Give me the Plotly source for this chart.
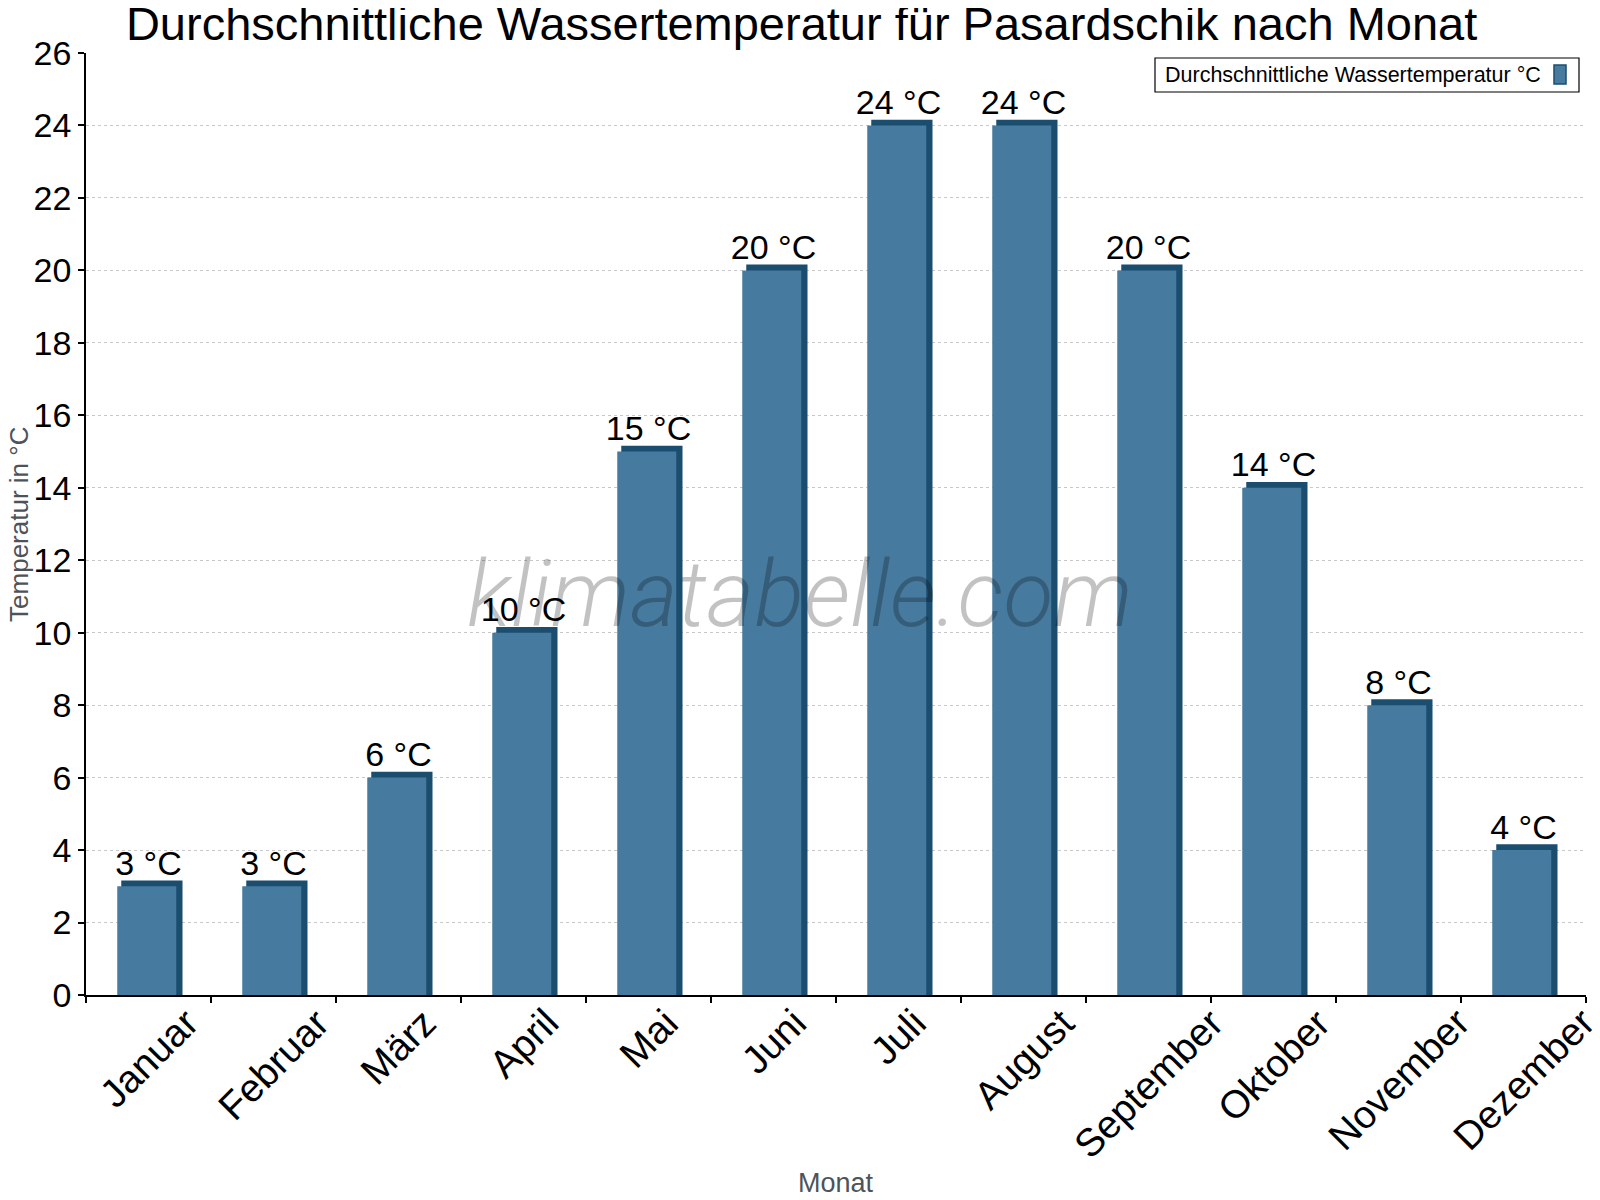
import plotly.graph_objects as go

months = ["Januar", "Februar", "März", "April", "Mai", "Juni", "Juli",
          "August", "September", "Oktober", "November", "Dezember"]
water_temp = [3, 3, 6, 10, 15, 20, 24, 24, 20, 14, 8, 4]
labels = [f"{v} °C" for v in water_temp]
y_ticks = list(range(0, 27, 2))

FRONT = "#467b9f"
DARK = "#1b4d6f"
DEPTH = 0.16  # visual 3D depth in y units
LABEL_LIFT = 0.08
FONT = "Liberation Sans, Arial, sans-serif"

fig = go.Figure()
# dark "3D" body (side + top)
fig.add_trace(go.Bar(
    x=months, y=[v + DEPTH for v in water_temp], base=0,
    marker=dict(color=DARK, line=dict(width=0)),
    offset=-0.25 + 0.032, width=0.49,
    showlegend=False, hoverinfo="skip",
))
# front face
fig.add_trace(go.Bar(
    x=months, y=water_temp,
    marker=dict(color=FRONT, line=dict(width=0)),
    offset=-0.25, width=0.472,
    name="Durchschnittliche Wassertemperatur °C",
    showlegend=False,
))
# value labels
fig.add_trace(go.Scatter(
    x=months, y=[v + LABEL_LIFT for v in water_temp], text=labels,
    mode="text", textposition="top center",
    textfont=dict(size=34, color="black", family=FONT),
    showlegend=False, hoverinfo="skip", cliponaxis=False,
))

# month labels: rotated, centred under each category
month_annotations = [
    dict(
        text=m, x=m, xref="x", y=0, yref="paper",
        textangle=-45, xanchor="center", yanchor="top", yshift=-3,
        showarrow=False, font=dict(size=39, color="black"),
    )
    for m in months
]

fig.update_layout(
    width=1600, height=1200,
    barmode="overlay",
    plot_bgcolor="white", paper_bgcolor="white",
    margin=dict(l=78, r=22, t=45, b=213),
    font=dict(family=FONT, color="black"),
    title=dict(
        text="Durchschnittliche Wassertemperatur für Pasardschik nach Monat",
        x=0.496, xref="container", xanchor="center",
        y=0.987, yref="container", yanchor="middle",
        font=dict(size=47, color="black"),
    ),
    xaxis=dict(
        type="category", tickson="boundaries", range=[-0.5, 11.5],
        ticks="outside", ticklen=6, tickcolor="black", tickwidth=1.5,
        showline=True, linecolor="black", linewidth=1.5,
        showticklabels=False,
        showgrid=False, automargin=False,
    ),
    yaxis=dict(
        range=[0, 26], tickvals=y_ticks,
        ticks="outside", ticklen=6, tickcolor="black", tickwidth=1.5,
        showline=True, linecolor="black", linewidth=1.5,
        tickfont=dict(size=34),
        showgrid=True, gridcolor="#c8c8c8", griddash="dot", gridwidth=1,
        zeroline=False, automargin=False,
    ),
    annotations=month_annotations + [
        dict(
            text="klimatabelle.com", xref="paper", yref="paper",
            x=0.476, y=0.425, xanchor="center", yanchor="middle",
            showarrow=False,
            font=dict(size=92, color="rgba(0,0,0,0.24)", family="Roboto",
                      weight=300, style="italic"),
        ),
        dict(
            text="Temperatur in °C", xref="paper", yref="paper",
            x=-0.0447, y=0.5, xanchor="center", yanchor="middle",
            textangle=-90, showarrow=False,
            font=dict(size=26, color="#4d5358"),
        ),
        dict(
            text="Monat", xref="paper", yref="paper",
            x=0.5, y=-0.1996, xanchor="center", yanchor="middle",
            showarrow=False,
            font=dict(size=27, color="#4d5358"),
        ),
        dict(
            text="Durchschnittliche Wassertemperatur °C",
            xref="paper", yref="paper", x=1.0, y=1.0,
            xshift=-423, yshift=-22,
            xanchor="left", yanchor="middle", showarrow=False,
            font=dict(size=21.5, color="black"),
        ),
    ],
    shapes=[
        dict(
            type="rect", xref="paper", yref="paper",
            xsizemode="pixel", ysizemode="pixel",
            xanchor=1.0, yanchor=1.0,
            x0=-431, x1=-7, y0=-39, y1=-5,
            fillcolor="white", line=dict(color="black", width=1.2),
        ),
        dict(
            type="rect", xref="paper", yref="paper",
            xsizemode="pixel", ysizemode="pixel",
            xanchor=1.0, yanchor=1.0,
            x0=-32, x1=-20, y0=-31, y1=-12,
            fillcolor=FRONT, line=dict(color=DARK, width=1.5),
        ),
    ],
)

fig.write_html("out.html")
